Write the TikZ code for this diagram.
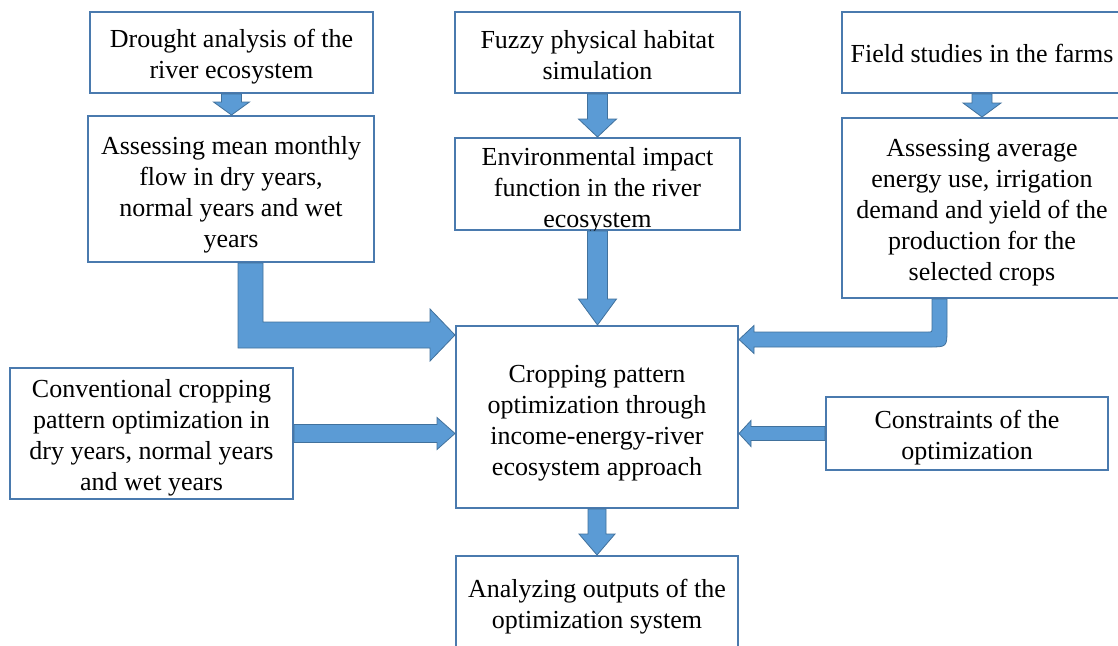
\documentclass[tikz,border=0pt]{standalone}
\usepackage{fontspec}
\setmainfont{Liberation Serif}
\usetikzlibrary{calc}
\definecolor{boxline}{HTML}{4A7AAE}
\definecolor{arrfill}{HTML}{5B9BD5}
\definecolor{arrline}{HTML}{41719C}
\tikzset{
  frame/.style={draw=boxline, line width=2pt, inner sep=0pt},
  txt/.style={inner sep=0pt, align=center, font=\fontsize{26}{31}\selectfont},
  arr/.style={fill=arrfill, draw=arrline, line width=0.8pt, line join=miter},
}
% box: name, cx, cy, width, height, text shift down, text
\newcommand\boxnode[7]{%
  \node[frame, minimum width=#4pt, minimum height=#5pt] (#1) at (#2,#3) {};
  \node[txt] (#1t) at ([yshift=-#6pt]#1.center) {#7};}
% down arrow: from, to, half shaft, half head, head length
\newcommand\darr[5]{\filldraw[arr] let \p1=(#1.south), \p2=(#2.north) in
  (\x1-#3,\y1) -- (\x1+#3,\y1) -- (\x1+#3,\y2+#5) -- (\x1+#4,\y2+#5) -- (\x1,\y2)
  -- (\x1-#4,\y2+#5) -- (\x1-#3,\y2+#5) -- cycle;}
% right arrow
\newcommand\rarr[5]{\filldraw[arr] let \p1=(#1.east), \p2=(#2.west) in
  (\x1,\y1+#3) -- (\x2-#5,\y1+#3) -- (\x2-#5,\y1+#4) -- (\x2,\y1)
  -- (\x2-#5,\y1-#4) -- (\x2-#5,\y1-#3) -- (\x1,\y1-#3) -- cycle;}
% left arrow
\newcommand\larr[5]{\filldraw[arr] let \p1=(#1.west), \p2=(#2.east) in
  (\x1,\y1+#3) -- (\x2+#5,\y1+#3) -- (\x2+#5,\y1+#4) -- (\x2,\y1)
  -- (\x2+#5,\y1-#4) -- (\x2+#5,\y1-#3) -- (\x1,\y1-#3) -- cycle;}
\begin{document}
\begin{tikzpicture}[x=1pt,y=-1pt]
\fill[white] (0,0) rectangle (1118,645);
\useasboundingbox (0,0) rectangle (1118,645);

\boxnode{b1}{231.5}{52.5}{283}{81}{4}{Drought analysis of the\\river ecosystem}
\boxnode{b2}{231}{189}{286}{146}{6}{Assessing mean monthly\\flow in dry years,\\normal years and wet\\years}
\boxnode{b3}{597.5}{52.5}{285}{81}{3}{Fuzzy physical habitat\\simulation}
\boxnode{b4}{597.5}{184}{285}{92}{6}{Environmental impact\\function in the river\\ecosystem}
\boxnode{b5}{982}{52.5}{280}{81}{1}{Field studies in the farms}
\boxnode{b6}{982}{208}{280}{180}{5}{Assessing average\\energy use, irrigation\\demand and yield of the\\production for the\\selected crops}
\boxnode{b7}{597}{417}{282}{182}{6}{Cropping pattern\\optimization through\\income-energy-river\\ecosystem approach}
\boxnode{b8}{151.5}{433.5}{283}{131}{4}{Conventional cropping\\pattern optimization in\\dry years, normal years\\and wet years}
\boxnode{b9}{967}{433.5}{282}{73}{4}{Constraints of the\\optimization}
\boxnode{b10}{597}{605.5}{282}{99}{1}{Analyzing outputs of the\\optimization system}

% straight arrows
\darr{b1}{b2}{10pt}{18pt}{13pt}
\darr{b3}{b4}{10pt}{19pt}{18pt}
\darr{b4}{b7}{10pt}{19pt}{26pt}
\darr{b5}{b6}{10pt}{19pt}{14pt}
\darr{b7}{b10}{9pt}{18pt}{21pt}
\rarr{b8}{b7}{9pt}{16pt}{18pt}
\larr{b9}{b7}{7pt}{13pt}{12pt}

% thick L-shaped arrow b2 -> b7
\filldraw[arr] let \p1=(b2.south), \p2=(b7.west) in
  (\x1+7pt,\y1) -- (\x1+32pt,\y1) -- (\x1+32pt,\y2+95pt) -- (\x2-25pt,\y2+95pt)
  -- (\x2-25pt,\y2+108pt) -- (\x2,\y2+82pt) -- (\x2-25pt,\y2+56pt)
  -- (\x2-25pt,\y2+69pt) -- (\x1+7pt,\y2+69pt) -- cycle;

% rounded L-shaped arrow b6 -> b7
\filldraw[arr] let \p1=(b6.south), \p2=(b7.east) in
  (\x1-50pt,\y1) -- (\x1-35pt,\y1) -- (\x1-35pt,\y2+88pt)
  .. controls (\x1-35pt,\y2+70pt) .. (\x1-53pt,\y2+70pt)
  -- (\x2+15pt,\y2+70pt) -- (\x2+15pt,\y2+63.5pt) -- (\x2,\y2+77.5pt)
  -- (\x2+15pt,\y2+91.5pt) -- (\x2+15pt,\y2+85pt) -- (\x1-54pt,\y2+85pt)
  .. controls (\x1-50pt,\y2+85pt) .. (\x1-50pt,\y2+89pt) -- cycle;
\end{tikzpicture}
\end{document}
